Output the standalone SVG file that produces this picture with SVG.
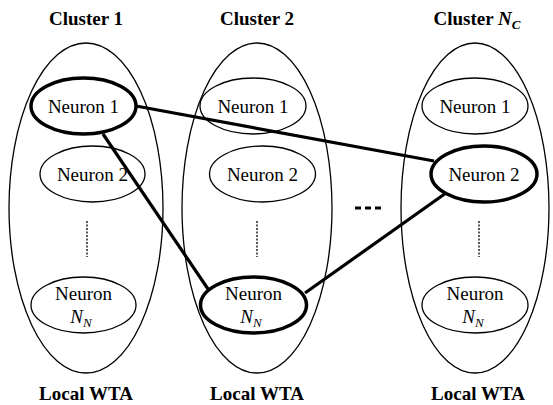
<svg xmlns="http://www.w3.org/2000/svg" width="553" height="405" viewBox="0 0 553 405" font-family="Liberation Serif, DejaVu Serif, serif">
<style>
.cl{fill:none;stroke:#000;stroke-width:1.3}
.n{fill:none;stroke:#000;stroke-width:1.3}
.nb{fill:none;stroke:#000;stroke-width:3.5}
.t{font-size:19px;fill:#000;text-anchor:middle}
.b{font-weight:bold}
.i{font-style:italic}
.sub{font-size:13px}
.dot{stroke:#000;stroke-width:1.3;stroke-dasharray:2,1.5}
.e{stroke:#000;stroke-width:3.2;fill:none}
.dash{stroke:#000;stroke-width:3}
</style>
<rect width="553" height="405" fill="#fff"/>
<g id="cluster1">
<ellipse class="cl" cx="86" cy="208" rx="77" ry="165"/>
<text class="t b" x="86" y="25">Cluster 1</text>
<text class="t b" x="86" y="400">Local WTA</text>
<line class="dot" x1="87" y1="221" x2="87" y2="257"/>
</g>
<g id="cluster2">
<ellipse class="cl" cx="257" cy="208" rx="75" ry="165"/>
<text class="t b" x="257" y="25">Cluster 2</text>
<text class="t b" x="257" y="400">Local WTA</text>
<line class="dot" x1="257" y1="221" x2="257" y2="257"/>
</g>
<g id="clusterNC">
<ellipse class="cl" cx="475" cy="208" rx="74" ry="165"/>
<text class="t b" x="477" y="25">Cluster <tspan class="i">N</tspan><tspan class="i sub" dy="4">C</tspan></text>
<text class="t b" x="478" y="400">Local WTA</text>
<line class="dot" x1="479" y1="221" x2="479" y2="257"/>
</g>
<g id="ellipsis">
<line class="dash" x1="355" y1="208" x2="361" y2="208"/>
<line class="dash" x1="365" y1="208" x2="371" y2="208"/>
<line class="dash" x1="375" y1="208" x2="381" y2="208"/>
</g>
<g id="connectors">
<line class="e" x1="136" y1="106" x2="434" y2="161"/>
<line class="e" x1="103" y1="134" x2="208" y2="289"/>
<line class="e" x1="305" y1="293" x2="446" y2="193"/>
</g>
<g id="c1n1">
<ellipse class="nb" cx="83.5" cy="106" rx="52.5" ry="28"/>
<text class="t" x="83.5" y="113">Neuron 1</text>
</g>
<g id="c1n2">
<ellipse class="n" cx="92.5" cy="174" rx="52.5" ry="28"/>
<text class="t" x="92.5" y="181">Neuron 2</text>
</g>
<g id="c1nN">
<ellipse class="n" cx="83.5" cy="305" rx="52.5" ry="28"/>
<text class="t" x="83.5" y="300">Neuron</text>
<text class="t i" x="81" y="323">N<tspan class="sub" dy="4">N</tspan></text>
</g>
<g id="c2n1">
<ellipse class="n" cx="253" cy="106" rx="53" ry="28"/>
<text class="t" x="253" y="113">Neuron 1</text>
</g>
<g id="c2n2">
<ellipse class="n" cx="262.5" cy="174" rx="53" ry="28"/>
<text class="t" x="262.5" y="181">Neuron 2</text>
</g>
<g id="c2nN">
<ellipse class="nb" cx="253.5" cy="305" rx="53" ry="28"/>
<text class="t" x="253.5" y="300">Neuron</text>
<text class="t i" x="251" y="323">N<tspan class="sub" dy="4">N</tspan></text>
</g>
<g id="cNn1">
<ellipse class="n" cx="475" cy="106" rx="53" ry="28"/>
<text class="t" x="475" y="113">Neuron 1</text>
</g>
<g id="cNn2">
<ellipse class="nb" cx="484" cy="174" rx="53" ry="28"/>
<text class="t" x="484" y="181">Neuron 2</text>
</g>
<g id="cNnN">
<ellipse class="n" cx="475" cy="305" rx="53" ry="28"/>
<text class="t" x="475" y="300">Neuron</text>
<text class="t i" x="473" y="323">N<tspan class="sub" dy="4">N</tspan></text>
</g>
</svg>
